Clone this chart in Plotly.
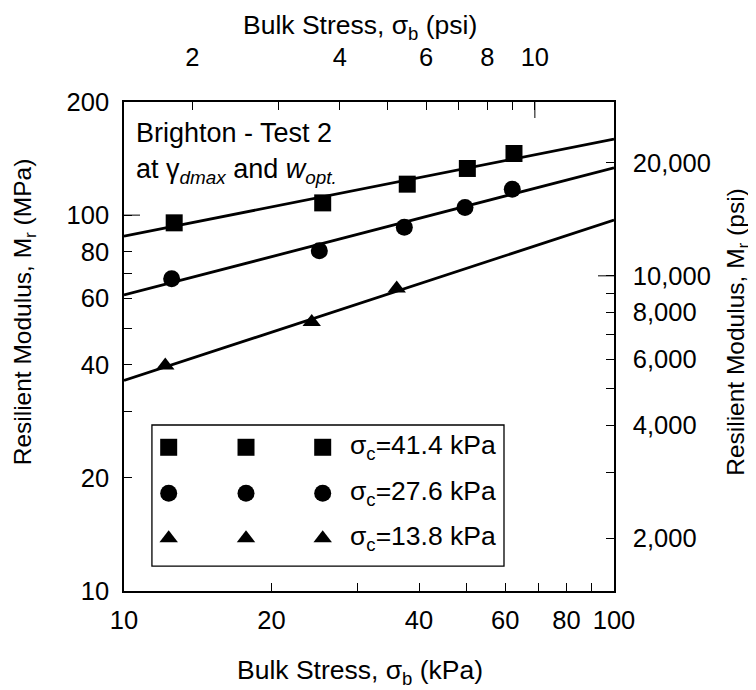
import numpy as np
import plotly.graph_objects as go

# ---- data ----
series_names = ["σ<sub>c</sub>=41.4 kPa", "σ<sub>c</sub>=27.6 kPa", "σ<sub>c</sub>=13.8 kPa"]
symbols = ["square", "circle", "triangle-up"]

bulk_sq = [12.66, 25.44, 37.85, 50.2, 62.5]
mr_sq = [95.4, 107.8, 120.9, 133.1, 145.9]

bulk_ci = [12.51, 25.04, 37.33, 49.65, 62.0]
mr_ci = [67.7, 80.4, 92.8, 104.8, 117.2]

bulk_tr = [12.14, 24.16, 36.02]
mr_tr = [39.8, 52.0, 63.8]

# power-law fits  Mr = k1 * sigma_b ^ k2
fit_k1 = [48.5, 28.13, 13.59]
fit_k2 = [0.2583, 0.3384, 0.4268]

# axis ticks
x_ticks = [10, 20, 30, 40, 50, 60, 70, 80, 90, 100]
x_text = ["10", "20", "", "40", "", "60", "", "80", "", "100"]
y_ticks = [10, 20, 30, 40, 50, 60, 70, 80, 100, 200]
y_text = ["10", "20", "", "40", "", "60", "", "80", "100", "200"]
psi_x_ticks = [2, 3, 4, 5, 6, 7, 8, 9, 10]
psi_x_text = ["2", "", "4", "", "6", "", "8", "", "10"]
psi_y_ticks = [2000, 3000, 4000, 5000, 6000, 7000, 8000, 9000, 10000, 20000]
psi_y_text = ["2,000", "", "4,000", "", "6,000", "", "8,000", "", "10,000", "20,000"]

KPA_PER_PSI = 6.894757
PSI_PER_MPA = 145.0377

FONT = "Liberation Sans, Arial, Helvetica, sans-serif"
# page body has an 8px margin, so the figure is offset by 8px
W, H = 748, 682
L, T = 116, 94
PW, PH = 490, 489
R, B = W - L - PW, H - T - PH

fig = go.Figure()

xs = [bulk_sq, bulk_ci, bulk_tr]
ys = [mr_sq, mr_ci, mr_tr]
msize = [17, 17, 16]
xfit = np.array([10.0, 100.0])
for i in range(3):
    fig.add_trace(go.Scatter(x=xfit, y=fit_k1[i] * xfit ** fit_k2[i], mode="lines",
                             line=dict(color="black", width=2.8), showlegend=False,
                             hoverinfo="skip"))
    fig.add_trace(go.Scatter(x=xs[i], y=ys[i], mode="markers",
                             marker=dict(symbol=symbols[i], size=msize[i], color="black"),
                             name=series_names[i], showlegend=False))

# dummy trace so that the psi axes are drawn
fig.add_trace(go.Scatter(x=[3], y=[5000], xaxis="x2", yaxis="y2", mode="markers",
                         marker=dict(opacity=0), showlegend=False, hoverinfo="skip"))

# custom legend (three symbols per row) on a hidden 0..1 overlay axis
leg_cols = [0.0912, 0.249, 0.4055]
leg_rows = [0.2939, 0.1998, 0.1078]
for i in range(3):
    fig.add_trace(go.Scatter(x=leg_cols, y=[leg_rows[i]] * 3, xaxis="x3", yaxis="y3",
                             mode="markers",
                             marker=dict(symbol=symbols[i], size=msize[i], color="black"),
                             showlegend=False, hoverinfo="skip"))
    fig.add_annotation(x=0.457, y=leg_rows[i], xref="paper", yref="paper",
                       xanchor="left", yanchor="middle", showarrow=False,
                       text=series_names[i], font=dict(size=26.5, family=FONT, color="black"))

fig.add_shape(type="rect", xref="paper", yref="paper", x0=0.057, x1=0.7755,
              y0=0.051, y1=0.3395, line=dict(color="black", width=1.3))

axis_common = dict(type="log", showgrid=False, zeroline=False, showline=True,
                   linecolor="black", linewidth=1.5, ticks="inside", ticklen=8,
                   tickwidth=1, tickcolor="black", tickmode="array",
                   tickfont=dict(size=25.5, family=FONT, color="black"))

fig.update_layout(
    width=W, height=H,
    margin=dict(l=L, r=R, t=T, b=B),
    plot_bgcolor="white", paper_bgcolor="white",
    font=dict(family=FONT, color="black"),
    xaxis=dict(**axis_common, range=[1, 2], tickvals=x_ticks, ticktext=x_text,
               ticklabelstandoff=6),
    yaxis=dict(**axis_common, range=[1, np.log10(200)], tickvals=y_ticks, ticktext=y_text,
               ticklabelstandoff=8),
    xaxis2=dict(**axis_common, overlaying="x", side="top",
                range=[np.log10(10 / KPA_PER_PSI), np.log10(100 / KPA_PER_PSI)],
                tickvals=psi_x_ticks, ticktext=psi_x_text, ticklabelstandoff=24),
    yaxis2=dict(**axis_common, overlaying="y", side="right",
                range=[np.log10(10 * PSI_PER_MPA), np.log10(200 * PSI_PER_MPA)],
                tickvals=psi_y_ticks, ticktext=psi_y_text, ticklabelstandoff=12),
    xaxis3=dict(overlaying="x", range=[0, 1], visible=False),
    yaxis3=dict(overlaying="y", range=[0, 1], visible=False),
)

# longer decade ticks
fig.add_shape(type="line", xref="paper", yref="y", xsizemode="pixel", xanchor=0,
              x0=0, x1=16, y0=100, y1=100, line=dict(color="black", width=1))
fig.add_shape(type="line", xref="paper", yref="y2", xsizemode="pixel", xanchor=1,
              x0=0, x1=-16, y0=10000, y1=10000, line=dict(color="black", width=1))
fig.add_shape(type="line", xref="x2", yref="paper", ysizemode="pixel", yanchor=1,
              y0=0, y1=-16, x0=10, x1=10, line=dict(color="black", width=1))

# axis titles
tf = dict(size=26.5, family=FONT, color="black")
vf = dict(size=24.5, family=FONT, color="black")
fig.add_annotation(x=0.4816, y=-0.1656, xref="paper", yref="paper", showarrow=False,
                   text="Bulk Stress, σ<sub>b</sub> (kPa)", font=tf,
                   xanchor="center", yanchor="middle")
fig.add_annotation(x=0.4816, y=1.153, xref="paper", yref="paper", showarrow=False,
                   text="Bulk Stress, σ<sub>b</sub> (psi)", font=tf,
                   xanchor="center", yanchor="middle")
fig.add_annotation(x=-0.204, y=0.57, xref="paper", yref="paper", showarrow=False,
                   text="Resilient Modulus, M<sub>r</sub> (MPa)", font=vf, textangle=-90,
                   xanchor="center", yanchor="middle")
fig.add_annotation(x=1.253, y=0.53, xref="paper", yref="paper", showarrow=False,
                   text="Resilient Modulus, M<sub>r</sub> (psi)", font=vf, textangle=-90,
                   xanchor="center", yanchor="middle")

# in-plot label
lf = dict(size=27, family=FONT, color="black")
fig.add_annotation(x=0.0204, y=0.937, xref="paper", yref="paper", showarrow=False,
                   text="Brighton - Test 2", font=lf, xanchor="left", yanchor="middle")
fig.add_annotation(x=0.0204, y=0.858, xref="paper", yref="paper", showarrow=False,
                   text="at γ<sub><i>dmax</i></sub> and <i>w</i><sub><i>opt.</i></sub>",
                   font=lf, xanchor="left", yanchor="middle")

fig.write_html("out.html")
